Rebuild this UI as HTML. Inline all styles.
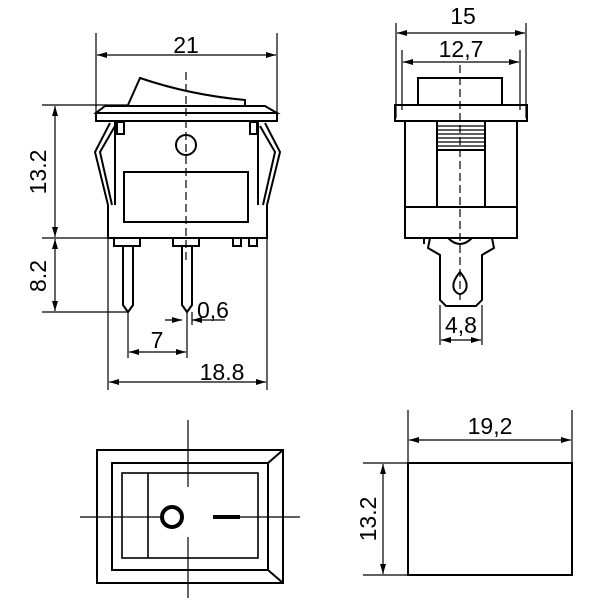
<!DOCTYPE html>
<html><head><style>body{margin:0;background:#fff}svg{display:block}</style></head>
<body>
<svg width="600" height="600" viewBox="0 0 600 600" xmlns="http://www.w3.org/2000/svg" font-family="Liberation Sans, sans-serif" font-size="23" fill="none" stroke="#000">
<defs>
<marker id="a" viewBox="0 0 10 6" refX="10" refY="3" markerWidth="10" markerHeight="6" orient="auto-start-reverse" markerUnits="userSpaceOnUse"><path d="M0,0L10,3L0,6z" fill="#000" stroke="none"/></marker>
</defs>
<g stroke-width="1.2">
<line x1="96" y1="33" x2="96" y2="112"/><line x1="277" y1="33" x2="277" y2="112"/>
<line x1="97" y1="55" x2="276" y2="55" marker-start="url(#a)" marker-end="url(#a)"/>
<line x1="42" y1="105" x2="128" y2="105"/>
<line x1="42" y1="238" x2="267" y2="238"/>
<line x1="42" y1="312" x2="128" y2="312"/>
<line x1="55" y1="106" x2="55" y2="237" marker-start="url(#a)" marker-end="url(#a)"/>
<line x1="55" y1="239" x2="55" y2="311" marker-start="url(#a)" marker-end="url(#a)"/>
<line x1="108" y1="238" x2="108" y2="390"/><line x1="267" y1="238" x2="267" y2="390"/>
<line x1="109" y1="382" x2="266" y2="382" marker-start="url(#a)" marker-end="url(#a)"/>
<line x1="128" y1="312" x2="128" y2="358"/><line x1="187" y1="312" x2="187" y2="358"/>
<line x1="129" y1="352" x2="186" y2="352" marker-start="url(#a)" marker-end="url(#a)"/>
<line x1="165" y1="320" x2="182" y2="320" marker-end="url(#a)"/>
<line x1="225" y1="320" x2="192" y2="320" marker-end="url(#a)"/>
<line x1="192" y1="312" x2="192" y2="325"/>
<line x1="186" y1="72" x2="186" y2="260" stroke-dasharray="8,4"/>
</g>
<g stroke-width="2">
<path d="M128,105 L140,78 Q190,95 245,100 L245,105"/>
<path d="M105,106 L265,106 L277,113 L96,113 Z"/>
<rect x="96" y="113" width="181" height="8"/>
<path d="M115,121 V205 M258,121 V205 M108,205 V238 H267 V205"/>
<path d="M108,205 L95,152 L110,123 M112,205 L100,152 L115,126"/>
<path d="M267,205 L280,152 L265,123 M263,205 L275,152 L260,126"/>
<rect x="117" y="122" width="7" height="12"/><rect x="250" y="122" width="7" height="12"/>
<circle cx="186" cy="145" r="10"/>
<rect x="124" y="172" width="124" height="50"/>
<rect x="114" y="238" width="26" height="8"/><rect x="173" y="238" width="26" height="8"/>
<rect x="233" y="238" width="8" height="8"/><rect x="249" y="238" width="8" height="8"/>
<path d="M123,246 V305 L128,312 L133,305 V246"/>
<path d="M182,246 V305 L187,312 L192,305 V246"/>
</g>
<g fill="#000" stroke="none">
<text x="186" y="53" text-anchor="middle">21</text>
<text x="222" y="380" text-anchor="middle">18.8</text>
<text x="157" y="348" text-anchor="middle">7</text>
<text x="213" y="318" text-anchor="middle">0,6</text>
<text transform="translate(46,172) rotate(-90)" text-anchor="middle">13.2</text>
<text transform="translate(46,276) rotate(-90)" text-anchor="middle">8.2</text>
</g>
<g stroke-width="1.2">
<line x1="396" y1="23" x2="396" y2="118"/><line x1="526" y1="23" x2="526" y2="118"/>
<line x1="397" y1="33" x2="525" y2="33" marker-start="url(#a)" marker-end="url(#a)"/>
<line x1="402" y1="50" x2="402" y2="110"/><line x1="520" y1="50" x2="520" y2="110"/>
<line x1="403" y1="62" x2="519" y2="62" marker-start="url(#a)" marker-end="url(#a)"/>
<line x1="460" y1="65" x2="460" y2="300" stroke-dasharray="8,4"/>
<line x1="440" y1="305" x2="440" y2="345"/><line x1="482" y1="305" x2="482" y2="345"/>
<line x1="441" y1="340" x2="481" y2="340" marker-start="url(#a)" marker-end="url(#a)"/>
<path d="M438,126H484M438,130H484M438,134H484M438,138H484M438,142H484M438,146H484"/>
</g>
<g stroke-width="2">
<rect x="418" y="78" width="84" height="27"/>
<rect x="395" y="105" width="132" height="16"/>
<rect x="405" y="121" width="112" height="117"/>
<line x1="405" y1="207" x2="517" y2="207"/>
<path d="M437,121V207M485,121V207M437,150H485"/>
<path d="M406,238 H424 V244 M448,238 Q460,250 472,238 M430,238 L428,248 L440,255 V300 L446,306 H476 L482,300 V255 L494,248 L492,238"/>
<path d="M460,272 Q450,284 455,291 Q460,297 465,291 Q470,284 460,272Z"/>
</g>
<g fill="#000" stroke="none">
<text x="463" y="24" text-anchor="middle">15</text>
<text x="461" y="57" text-anchor="middle">12,7</text>
<text x="461" y="333" text-anchor="middle">4,8</text>
</g>
<g stroke-width="2">
<rect x="97" y="450" width="186" height="133"/>
<rect x="112" y="463" width="156" height="107"/>
<path d="M268,463L283,450M268,570L283,583"/>
<rect x="122" y="473" width="136" height="85" stroke-width="1.6"/>
<line x1="148" y1="473" x2="148" y2="558" stroke-width="1.6"/>
<circle cx="172" cy="517" r="10" stroke-width="4"/>
<line x1="213" y1="517" x2="240" y2="517" stroke-width="4"/>
</g>
<g stroke-width="1.2">
<path d="M80,517H160M240,517H300M188,420V487M188,537V598"/>
</g>
<rect x="408" y="463" width="164" height="112" stroke-width="2"/>
<g stroke-width="1.2">
<line x1="408" y1="410" x2="408" y2="463"/><line x1="572" y1="410" x2="572" y2="463"/>
<line x1="409" y1="440" x2="571" y2="440" marker-start="url(#a)" marker-end="url(#a)"/>
<line x1="363" y1="463" x2="408" y2="463"/><line x1="363" y1="575" x2="408" y2="575"/>
<line x1="383" y1="464" x2="383" y2="574" marker-start="url(#a)" marker-end="url(#a)"/>
</g>
<g fill="#000" stroke="none">
<text x="490" y="434" text-anchor="middle">19,2</text>
<text transform="translate(376,519) rotate(-90)" text-anchor="middle">13.2</text>
</g>
</svg>
</body></html>
